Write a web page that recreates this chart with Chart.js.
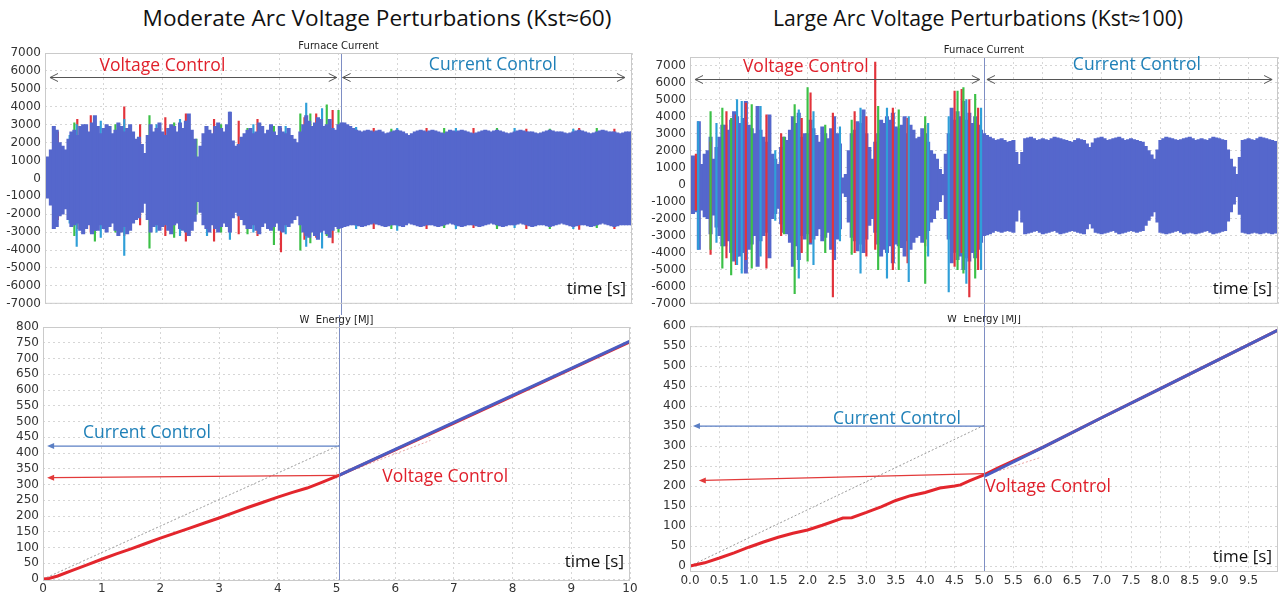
<!DOCTYPE html>
<html><head><meta charset="utf-8">
<script src="https://cdn.jsdelivr.net/npm/chart.js@4.4.1/dist/chart.umd.min.js"></script>
<style>
html,body{margin:0;padding:0;background:#fff;width:1283px;height:593px;overflow:hidden;position:relative;}
canvas{position:absolute;}
.ttl{position:absolute;font-family:"Open Sans",sans-serif;color:#111;white-space:nowrap;transform:translateX(-50%);}
</style></head><body>
<div class="ttl" style="left:377px;top:2px;font-size:22.6px">Moderate Arc Voltage Perturbations (Kst≈60)</div>
<div class="ttl" style="left:978px;top:3px;font-size:21.2px">Large Arc Voltage Perturbations (Kst≈100)</div>
<canvas id="c1" width="640" height="285" style="left:0;top:30px"></canvas>
<canvas id="c2" width="640" height="278" style="left:0;top:315px"></canvas>
<canvas id="c3" width="643" height="285" style="left:640px;top:30px"></canvas>
<canvas id="c4" width="643" height="278" style="left:640px;top:315px"></canvas>
<script>
// ---------- DATA ----------
const envT = [0,0.1,0.2,0.3,0.4,0.5,0.6,0.7,0.8,0.9,1,1.1,1.2,1.3,1.4,1.5,1.6,1.7,1.8,1.9,2,2.1,2.2,2.3,2.4,2.5,2.6,2.7,2.8,2.9,3,3.1,3.2,3.3,3.4,3.5,3.6,3.7,3.8,3.9,4,4.1,4.2,4.3,4.4,4.5,4.6,4.7,4.8,4.9,5,5.1,5.2,5.3,5.4,5.5,5.6,5.7,5.8,5.9,6,6.1,6.2,6.3,6.4,6.5,6.6,6.7,6.8,6.9,7,7.1,7.2,7.3,7.4,7.5,7.6,7.7,7.8,7.9,8,8.1,8.2,8.3,8.4,8.5,8.6,8.7,8.8,8.9,9,9.1,9.2,9.3,9.4,9.5,9.6,9.7,9.8,9.9,10];
const midT = [0.05,0.15,0.25,0.35,0.45,0.55,0.65,0.75,0.85,0.95,1.05,1.15,1.25,1.35,1.45,1.55,1.65,1.75,1.85,1.95,2.05,2.15,2.25,2.35,2.45,2.55,2.65,2.75,2.85,2.95,3.05,3.15,3.25,3.35,3.45,3.55,3.65,3.75,3.85,3.95,4.05,4.15,4.25,4.35,4.45,4.55,4.65,4.75,4.85,4.95,5.05,5.15,5.25,5.35,5.45,5.55,5.65,5.75,5.85,5.95,6.05,6.15,6.25,6.35,6.45,6.55,6.65,6.75,6.85,6.95,7.05,7.15,7.25,7.35,7.45,7.55,7.65,7.75,7.85,7.95,8.05,8.15,8.25,8.35,8.45,8.55,8.65,8.75,8.85,8.95,9.05,9.15,9.25,9.35,9.45,9.55,9.65,9.75,9.85,9.95];

// Moderate perturbations: furnace current peaks [A]
const modHi = [500,1600,2700,1800,2200,2700,2900,3000,3100,2900,2800,2900,2700,2900,2800,2600,2300,1400,3000,2800,2600,2800,2900,3100,3200,2700,1200,2500,2700,2900,2800,3000,2100,1900,2500,2800,2600,2900,2700,2600,2900,2500,2400,2000,3000,3200,3100,3300,3000,2800,3000,3100,2900,2700,2600,2700,2600,2700,2500,2600,2700,2600,2400,2600,2700,2600,2700,2600,2500,2700,2600,2700,2600,2500,2600,2700,2600,2700,2600,2500,2600,2700,2600,2600,2500,2600,2700,2600,2600,2500,2600,2700,2600,2500,2600,2700,2600,2600,2500,2600,2600];
const modLo = [-500,-1500,-2700,-2000,-2300,-2600,-2900,-2800,-3100,-2900,-2800,-2700,-2900,-3000,-3100,-2500,-2200,-1400,-3000,-2600,-2700,-2900,-2600,-2800,-3000,-2900,-1300,-2600,-3000,-2800,-2700,-2700,-2200,-2100,-2600,-2800,-2900,-2700,-2800,-2700,-2900,-2600,-2500,-2100,-3000,-3300,-3200,-3000,-3100,-2900,-2800,-2700,-2600,-2600,-2700,-2600,-2500,-2600,-2700,-2600,-2600,-2700,-2500,-2600,-2700,-2600,-2600,-2700,-2600,-2500,-2600,-2700,-2600,-2600,-2700,-2600,-2500,-2600,-2700,-2600,-2600,-2500,-2600,-2700,-2600,-2600,-2700,-2600,-2500,-2600,-2700,-2600,-2600,-2700,-2600,-2500,-2600,-2700,-2600,-2600,-2600];
const modMidHi = [1200,2900,2000,1600,2600,2400,3000,2600,3500,2500,
  3000,2500,3100,2600,3000,2200,1900,2400,2600,3100,
  2400,3000,2600,2800,3600,2200,1800,2900,2500,3100,
  2600,3700,1800,2300,2700,2500,3100,2500,3000,2400,
  2600,2800,2200,2600,3500,2900,3400,2900,3300,2700,
  3100,3000,2800,2650,2650,2650,2650,2600,2550,2650,
  2650,2500,2500,2650,2650,2650,2650,2550,2600,2650,
  2650,2650,2550,2550,2650,2650,2650,2650,2550,2550,
  2650,2650,2600,2550,2550,2650,2650,2600,2550,2550,
  2650,2650,2550,2550,2650,2650,2600,2550,2550,2600];
const modMidLo = [-1100,-2800,-2100,-1700,-2700,-2500,-3100,-2600,-2900,-2600,
  -3000,-2500,-3200,-2700,-2900,-2300,-1900,-2300,-2700,-2900,
  -2600,-3100,-2500,-2900,-3200,-2400,-1900,-2800,-2600,-3000,
  -2500,-3000,-1900,-2300,-2800,-2600,-3100,-2500,-2900,-2500,
  -3000,-2700,-2300,-2600,-3200,-3000,-3400,-2900,-3300,-2700,
  -2750,-2650,-2600,-2650,-2650,-2550,-2550,-2650,-2650,-2600,
  -2650,-2600,-2550,-2650,-2650,-2600,-2650,-2650,-2550,-2550,
  -2650,-2650,-2600,-2650,-2650,-2550,-2550,-2650,-2650,-2600,
  -2550,-2550,-2650,-2650,-2600,-2650,-2650,-2550,-2550,-2650,
  -2650,-2600,-2650,-2650,-2550,-2550,-2650,-2650,-2600,-2600];
// phase spikes (moderate)
const modRedT  = [0.22,0.55,0.78,1.35,1.62,2.05,2.4,2.88,3.3,3.62,4.02,4.42,4.62,4.9,5.6,6.5,7.3,8.2,9.1,9.7];
const modRedHi = [2600,3300,3500,4000,3000,3400,3600,3300,3200,3300,2800,3400,3600,3800,2800,2800,2800,2750,2800,2750];
const modRedLo = [-2300,-2800,-3000,-3200,-2600,-3200,-3500,-3500,-3100,-3200,-4100,-3400,-3300,-3600,-2800,-2800,-2750,-2800,-2850,-2800];
const modGrnT  = [0.5,0.85,1.2,1.78,2.2,2.58,3.0,3.45,3.9,4.35,4.52,4.8,5.0,5.9,6.8,7.7,8.6,9.4];
const modGrnHi = [3100,3300,3000,3500,3100,2200,3000,2800,2900,3600,3600,4100,3800,2750,2800,2800,2750,2800];
const modGrnLo = [-3200,-3500,-3000,-3900,-3300,-2000,-3000,-3100,-3700,-4000,-3600,-3200,-3000,-2800,-2750,-2800,-2800,-2750];
const modCyaT  = [0.15,0.42,0.54,0.95,1.35,1.9,2.3,2.76,3.15,3.55,4.1,4.45,4.72,5.3,6.0,7.0,8.0,9.0];
const modCyaHi = [2900,2400,3000,3200,3300,3000,3300,2900,3700,3000,2900,4200,3900,2850,2800,2800,2800,2750];
const modCyaLo = [-2800,-2500,-3800,-3300,-4300,-3000,-3200,-3200,-3400,-3000,-3100,-3800,-3900,-2800,-2900,-2800,-2750,-2800];

// Large perturbations: furnace current peaks [A]
const lrgHi = [900,1500,1200,2000,1500,2800,3500,3800,4000,3900,3500,3000,3200,2500,1800,1200,2800,3200,3600,2800,3000,3300,2500,3000,3300,3000,400,2000,3200,3600,3000,1500,3000,3600,3800,3400,3500,3000,3200,2800,3000,2000,1500,600,3000,3800,4000,3800,3600,3500,3000,2800,2600,2700,2500,2600,1200,2700,2800,2600,2700,2600,2800,2700,2600,2500,2700,2600,2200,2700,2800,2600,2700,2800,2600,2700,2600,2500,2000,1500,2600,2800,2700,2600,2700,2800,2600,2700,2600,2800,2700,2600,1500,600,2600,2700,2600,2800,2700,2600,2500];
const lrgLo = [-800,-1600,-1500,-2000,-1800,-3000,-3600,-4000,-4200,-4000,-3800,-3000,-3300,-2800,-2000,-1400,-2800,-3400,-3600,-3000,-2900,-3200,-2600,-3100,-3800,-3200,-500,-2200,-3300,-3500,-3200,-2000,-3500,-3800,-3600,-3500,-3700,-3300,-3400,-3000,-3200,-2200,-1500,-600,-3200,-4000,-4200,-4300,-4000,-3800,-3000,-2900,-2700,-2800,-2700,-2800,-1500,-2900,-2800,-2700,-2900,-2800,-2700,-2900,-2800,-2700,-2800,-2900,-2300,-2800,-2900,-2800,-2700,-2900,-2800,-2700,-2800,-2700,-2100,-1600,-2800,-2900,-2800,-2700,-2900,-2800,-2900,-2800,-2700,-2900,-2800,-2700,-1600,-700,-2800,-2900,-2800,-2900,-2800,-2900,-2800];
const lrgMidHi = [1700,3700,1800,2800,2200,3500,3200,4300,3600,4900,
  3300,4600,2800,4100,1500,2200,2600,4000,4200,3000,
  3800,2900,3400,2700,4000,2400,600,3000,3700,4400,
  2200,2500,3800,4000,4200,3300,4000,3500,2700,3300,
  2500,1800,900,1800,4500,4300,4900,4200,4000,3200,
  2900,2700,2650,2600,2550,1900,1900,2750,2700,2650,
  2650,2700,2750,2650,2550,2600,2650,2400,2450,2750,
  2700,2650,2750,2700,2650,2650,2550,2250,1750,2050,
  2700,2750,2650,2650,2750,2700,2650,2650,2700,2750,
  2650,2050,1050,1600,2650,2650,2700,2750,2650,2550];
const lrgMidLo = [-1700,-3800,-1900,-2900,-2500,-3600,-3300,-4500,-4200,-5200,
  -3500,-4800,-3000,-4300,-1700,-2300,-2900,-4800,-4400,-3200,
  -3500,-3000,-3300,-2800,-4400,-2600,-700,-3100,-3900,-4000,
  -2400,-2800,-4200,-4000,-4600,-3600,-4200,-3800,-3100,-3400,
  -2700,-2000,-1000,-2000,-4600,-4400,-5000,-4500,-4300,-3400,
  -2950,-2800,-2750,-2750,-2750,-2150,-2200,-2850,-2750,-2800,
  -2850,-2750,-2800,-2850,-2750,-2750,-2850,-2600,-2550,-2850,
  -2850,-2750,-2800,-2850,-2750,-2750,-2750,-2400,-1850,-2200,
  -2850,-2850,-2750,-2800,-2850,-2850,-2850,-2750,-2800,-2850,
  -2750,-2150,-1150,-1750,-2850,-2850,-2850,-2850,-2850,-2850];
const lrgRedT  = [0.1,0.35,0.62,0.78,0.95,1.3,1.55,1.9,2.05,2.43,2.8,3.0,3.15,3.45,3.7,4.0,4.5,4.62,4.75,4.9];
const lrgRedHi = [1800,2500,4300,4100,4800,4100,3000,3900,5400,4200,4300,4000,7200,4500,3900,3500,5500,5600,5000,4500];
const lrgRedLo = [-1500,-4100,-4300,-4700,-4400,-4900,-3000,-4000,-3400,-6600,-4000,-4200,-3800,-5000,-4600,-3600,-4800,-4000,-6600,-5000];
const lrgGrnT  = [0.35,0.55,0.7,1.05,1.6,1.78,2.0,2.3,2.75,3.2,3.55,4.0,4.55,4.65,4.85];
const lrgGrnHi = [4300,4500,3900,4700,2800,4700,5700,3500,3800,4600,4400,4000,5500,5700,5300];
const lrgGrnLo = [-3800,-4900,-5300,-4900,-2900,-6400,-4500,-4000,-4100,-5000,-5000,-5800,-5000,-5200,-5500];
const lrgCyaT  = [0.14,0.45,0.8,0.88,1.2,1.45,1.85,2.1,2.55,2.9,3.35,3.72,4.05,4.4,4.7,4.95];
const lrgCyaHi = [3700,3600,5000,4900,4600,2000,4400,4300,3400,4500,4500,4000,3600,4000,5000,4500];
const lrgCyaLo = [-3800,-3400,-4700,-5200,-4200,-2100,-5500,-4700,-3300,-5200,-5500,-5700,-4200,-6300,-5800,-5000];

// Energy W [MJ]
const modVoltT = [0,0.1,0.25,0.5,0.75,1,1.25,1.5,1.75,2,2.25,2.5,2.75,3,3.25,3.5,3.75,4,4.25,4.5,4.75,5.05,6,7,8,9,10];
const modVoltW = [0,2,10,28,45,63,80,96,113,130,146,162,178,194,211,228,244,260,275,289,307,330,410,495,581,667,753];
const modCurT  = [5.05,6,7,8,9,10];
const modCurW  = [330,412,497,583,669,755];
const lrgVoltT = [0,0.25,0.5,0.75,1,1.25,1.5,1.75,2,2.25,2.5,2.6,2.75,3,3.25,3.5,3.75,4,4.25,4.5,4.6,4.75,5,5.25,5.5,5.75,6,7,8,9,10];
const lrgVoltW = [0,8,20,33,47,60,72,82,90,102,115,120,121,134,148,164,176,184,195,200,203,213,228,246,263,280,297,371,444,517,590];
const lrgCurT  = [5,6,7,8,9,10];
const lrgCurW  = [224,297,371,444,517,590];

// guide lines / arrows (time, value)
const modGuide = [[0,0],[5.05,425]];
const modExtra = [[5.05,330],[6.6,440]];
const lrgGuide = [[0,0],[5,352]];
const lrgExtra = [[5,226],[5.95,271]];
const modCurArrow = [[5.05,422],[0.07,422]];
const modVolArrow = [[5.05,329],[0.07,322]];
const lrgCurArrow = [[5,350],[0.05,350]];
const lrgVolArrow = [[5,231],[0.15,214]];
const modSwitch = 5.05, lrgSwitch = 5.0;

// ticks
const curTicks = [-7000,-6000,-5000,-4000,-3000,-2000,-1000,0,1000,2000,3000,4000,5000,6000,7000];
const modWTicks = [0,50,100,150,200,250,300,350,400,450,500,550,600,650,700,750,800];
const lrgWTicks = [0,50,100,150,200,250,300,350,400,450,500,550,600];
const modTimeTicks = [0,1,2,3,4,5,6,7,8,9,10];
const lrgTimeTicks = [0,0.5,1,1.5,2,2.5,3,3.5,4,4.5,5,5.5,6,6.5,7,7.5,8,8.5,9,9.5];

// ---------- RENDER ----------
const BODY='#5567cc', RED='#e2333b', GRN='#3cc047', CYA='#2f9fd8';
const TXT_RED='#e0202b', TXT_BLUE='#1f80b8';
const FONT='"DejaVu Sans"';

function drawVline(chart,o){
  const ctx=chart.ctx, a=chart.chartArea, X=v=>chart.scales.x.getPixelForValue(v);
  const vx=Math.round(X(o.vline))+0.5;
  ctx.save(); ctx.strokeStyle='#7e8ec4'; ctx.lineWidth=1; ctx.beginPath();
  ctx.moveTo(vx,o.vFromCanvasTop?0:a.top); ctx.lineTo(vx,o.vToCanvasBottom?chart.height:a.bottom); ctx.stroke();
  ctx.restore();
}
const deco = {
  id:'deco',
  beforeDatasetsDraw(chart,args,o){ if(o.vBehind) drawVline(chart,o); },
  afterDraw(chart, args, o){
    const ctx=chart.ctx, a=chart.chartArea, xs=chart.scales.x, ys=chart.scales.y;
    const X=v=>xs.getPixelForValue(v), Y=v=>ys.getPixelForValue(v);
    if(!o.vBehind) drawVline(chart,o);
    else {
      // segment of the switch line below the plot frame (gap to next panel)
      const vx=Math.round(X(o.vline))+0.5;
      ctx.save(); ctx.strokeStyle='#7e8ec4'; ctx.beginPath(); ctx.moveTo(vx,a.bottom); ctx.lineTo(vx,chart.height); ctx.stroke(); ctx.restore();
    }
    ctx.save();
    ctx.strokeStyle='#cacaca'; ctx.lineWidth=1;
    ctx.strokeRect(a.left+0.5,a.top+0.5,a.right-a.left-1,a.bottom-a.top-1);
    ctx.font='10px '+FONT; ctx.fillStyle='#222'; ctx.textAlign='center'; ctx.textBaseline='bottom';
    ctx.fillText(o.title,(a.left+a.right)/2,a.top-2);
    (o.dbl||[]).forEach(d=>{
      const x1=X(d[0]),x2=X(d[1]),y=Math.round(Y(d[2]))+0.5;
      ctx.strokeStyle='#555'; ctx.lineWidth=1; ctx.beginPath();
      ctx.moveTo(x1,y); ctx.lineTo(x2,y);
      ctx.moveTo(x1+8,y-4); ctx.lineTo(x1,y); ctx.lineTo(x1+8,y+4);
      ctx.moveTo(x2-8,y-4); ctx.lineTo(x2,y); ctx.lineTo(x2-8,y+4);
      ctx.stroke();
    });
    (o.ptr||[]).forEach(p=>{
      const x1=X(p.pts[0][0]),y1=Y(p.pts[0][1]),x2=X(p.pts[1][0]),y2=Y(p.pts[1][1]);
      ctx.strokeStyle=p.c; ctx.fillStyle=p.c; ctx.lineWidth=1.2; ctx.beginPath();
      ctx.moveTo(x1,y1); ctx.lineTo(x2+5,y2); ctx.stroke();
      ctx.beginPath(); ctx.moveTo(x2,y2); ctx.lineTo(x2+7,y2-3); ctx.lineTo(x2+7,y2+3); ctx.closePath(); ctx.fill();
    });
    (o.texts||[]).forEach(t=>{
      ctx.font=(t.size||17.5)+'px "Open Sans"'; ctx.fillStyle=t.c; ctx.textAlign=t.al||'left'; ctx.textBaseline='middle';
      ctx.fillText(t.s,X(t.t),Y(t.v));
    });
    ctx.font='17px "Open Sans"'; ctx.fillStyle='#111'; ctx.textAlign='right'; ctx.textBaseline='middle';
    ctx.fillText('time [s]',a.right-6,a.bottom-o.timeDy);
    ctx.restore();
  }
};

function xy(ts,vs){return ts.map((t,i)=>({x:t,y:vs[i]}));}
function pairs(p){return p.map(q=>({x:q[0],y:q[1]}));}
function bars(ts,lo,hi,c,w,ord){return {type:'bar',data:ts.map((t,i)=>({x:t,y:[lo[i],hi[i]]})),backgroundColor:c,barThickness:w,grouped:false,order:ord};}

function scales(o){
  const tickFont={family:'DejaVu Sans',size:12};
  return {
    x:{type:'linear',min:0,max:10,offset:false,
      afterBuildTicks:s=>{s.ticks=o.xTicks.map(v=>({value:v}));},
      afterFit:s=>{s.height=o.xh;},
      grid:{color:'#d6d6d6',drawTicks:false,offset:false},
      border:{display:false,dash:[2,3]},
      ticks:{display:o.xLabels,padding:o.xpad||2,maxRotation:0,autoSkip:false,font:tickFont,color:'#333',callback:o.xFmt}},
    y:{type:'linear',min:o.ymin,max:o.ymax,
      afterBuildTicks:s=>{s.ticks=o.yTicks.map(v=>({value:v}));},
      afterFit:s=>{s.width=o.yw;},
      grid:{color:'#d6d6d6',drawTicks:false},
      border:{display:false,dash:[2,3]},
      ticks:{padding:4,autoSkip:false,font:tickFont,color:'#333',callback:v=>String(v)}}
  };
}
const common={responsive:false,animation:false,events:[],devicePixelRatio:1};

function currentChart(id,o){
  const sp=o.spikesOnTop?[1,2,3]:[7,8,9];
  new Chart(document.getElementById(id),{
    type:'line',
    data:{datasets:[
      bars(envT,o.lo,o.hi,o.body,3.4,5),
      bars(midT,o.mlo,o.mhi,o.body,3.4,4),
      bars(o.redT,o.redLo,o.redHi,RED,1.5,sp[2]),
      bars(o.grnT,o.grnLo,o.grnHi,GRN,1.5,sp[1]),
      bars(o.cyaT,o.cyaLo,o.cyaHi,CYA,1.5,sp[0])
    ]},
    options:Object.assign({},common,{
      layout:{padding:o.pad},
      scales:scales({xTicks:o.xTicks,xh:0,xLabels:false,ymin:-7000,ymax:o.ymax,yTicks:curTicks,yw:o.yw}),
      plugins:{legend:{display:false},tooltip:{enabled:false},
        deco:{title:'Furnace Current',vline:o.sw,vBehind:true,vToCanvasBottom:false,dbl:o.dbl,texts:o.texts,timeDy:15}}
    }),
    plugins:[deco]
  });
}
function energyChart(id,o){
  new Chart(document.getElementById(id),{
    type:'line',
    data:{datasets:[
      {data:pairs(o.guide),borderColor:'#9c9c9c',borderWidth:1,borderDash:[2,2],pointRadius:0,order:8},
      {data:pairs(o.extra),borderColor:'#e9a4a4',borderWidth:1,borderDash:[2,2],pointRadius:0,order:7},
      {data:xy(o.vT,o.vW),borderColor:'#e3262d',borderWidth:3,pointRadius:0,order:5,tension:0},
      {data:xy(o.cT,o.cW),borderColor:'#4b5cc2',borderWidth:3,pointRadius:0,order:4,tension:0}
    ]},
    options:Object.assign({},common,{
      layout:{padding:o.pad},
      scales:scales({xTicks:o.xTicks,xh:o.xh,xLabels:true,xFmt:o.xFmt,xpad:o.xpad,ymin:o.ymin,ymax:o.ymax,yTicks:o.yTicks,yw:o.yw}),
      plugins:{legend:{display:false},tooltip:{enabled:false},
        deco:{title:'W  Energy [MJ]',vline:o.sw,vFromCanvasTop:true,ptr:o.ptr,texts:o.texts,timeDy:o.timeDy}}
    }),
    plugins:[deco]
  });
}

currentChart('c1',{hi:modHi,lo:modLo,mhi:modMidHi,mlo:modMidLo,body:BODY,redT:modRedT,redHi:modRedHi,redLo:modRedLo,grnT:modGrnT,grnHi:modGrnHi,grnLo:modGrnLo,cyaT:modCyaT,cyaHi:modCyaHi,cyaLo:modCyaLo,
  spikesOnTop:false,pad:{top:23,right:8,bottom:8,left:0},yw:45,ymax:7000,xTicks:modTimeTicks,sw:modSwitch,
  dbl:[[0.085,4.97,5680],[5.07,9.88,5680]],
  texts:[{s:'Voltage Control',t:2.0,v:6300,c:TXT_RED,al:'center'},{s:'Current Control',t:7.63,v:6350,c:TXT_BLUE,al:'center'}]});

energyChart('c2',{guide:modGuide,extra:modExtra,vT:modVoltT,vW:modVoltW,cT:modCurT,cW:modCurW,
  pad:{top:12,right:10,bottom:0,left:0},yw:43,xh:12,xpad:1,ymin:-6,ymax:800,yTicks:modWTicks,xTicks:modTimeTicks,xFmt:v=>String(v),sw:modSwitch,
  ptr:[{pts:modCurArrow,c:'#5b7fc4'},{pts:modVolArrow,c:'#e23a3a'}],
  texts:[{s:'Current Control',t:0.68,v:463,c:TXT_BLUE},{s:'Voltage Control',t:5.78,v:324,c:TXT_RED}],timeDy:19});

currentChart('c3',{hi:lrgHi,lo:lrgLo,mhi:lrgMidHi,mlo:lrgMidLo,body:BODY,redT:lrgRedT,redHi:lrgRedHi,redLo:lrgRedLo,grnT:lrgGrnT,grnHi:lrgGrnHi,grnLo:lrgGrnLo,cyaT:lrgCyaT,cyaHi:lrgCyaHi,cyaLo:lrgCyaLo,
  spikesOnTop:true,pad:{top:27,right:5,bottom:9,left:0},yw:50,ymax:7500,xTicks:lrgTimeTicks.concat([10]),sw:lrgSwitch,
  dbl:[[0.085,4.93,6190],[5.05,9.9,6190]],
  texts:[{s:'Voltage Control',t:1.97,v:6885,c:TXT_RED,al:'center'},{s:'Current Control',t:7.6,v:7000,c:TXT_BLUE,al:'center'}]});

energyChart('c4',{guide:lrgGuide,extra:lrgExtra,vT:lrgVoltT,vW:lrgVoltW,cT:lrgCurT,cW:lrgCurW,
  pad:{top:10,right:5,bottom:0,left:0},yw:50,xh:21,xpad:2,ymin:-15,ymax:600,yTicks:lrgWTicks,xTicks:lrgTimeTicks,xFmt:v=>v.toFixed(1),sw:lrgSwitch,
  ptr:[{pts:lrgCurArrow,c:'#5b7fc4'},{pts:lrgVolArrow,c:'#e23a3a'}],
  texts:[{s:'Current Control',t:2.43,v:368,c:TXT_BLUE},{s:'Voltage Control',t:5.02,v:197,c:TXT_RED}],timeDy:15});
</script>
</body></html>
